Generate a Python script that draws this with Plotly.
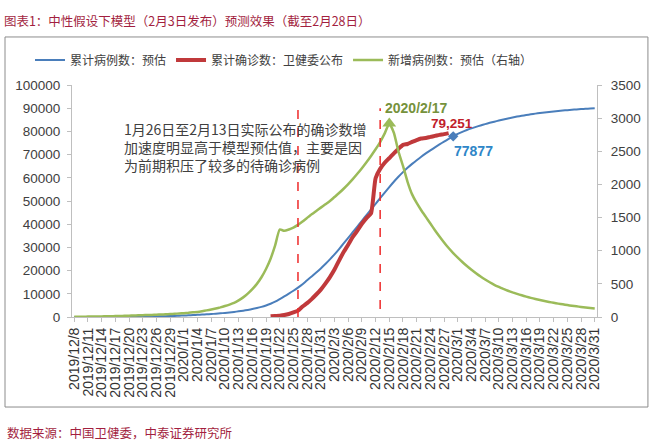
import datetime as dt
import plotly.graph_objects as go

# ---- categories: daily dates 2019/12/8 .. 2020/3/31 ----
start = dt.date(2019, 12, 8)
dates = [(start + dt.timedelta(days=i)) for i in range(115)]
dates = [f"{d.year}/{d.month}/{d.day}" for d in dates]
tick_labels = dates[::3]

# ---- model estimate: cumulative cases (left axis) ----
blue_cum = [5, 7, 10, 13, 17, 22, 28, 35, 43, 52, 63, 76, 91, 108, 128,
            150, 180, 215, 255, 300, 350, 410, 480, 560, 640, 730, 820, 920, 1030, 1150,
            1280, 1420, 1580, 1760, 1960, 2190, 2450, 2740, 3060, 3430, 3860, 4370, 4980, 5700, 6600,
            7700, 8850, 10050, 11300, 12650, 14100, 15850, 17450, 19150, 20950, 22850, 24850, 27000, 29300, 31700,
            34100, 36550, 39000, 41450, 43900, 46350, 48800, 51200, 53600, 56000, 58300, 60450, 62450, 64300, 66000,
            67600, 69100, 70500, 71850, 73150, 74400, 75600, 76750, 77877, 78900, 79800, 80600, 81300, 81950, 82570,
            83150, 83690, 84200, 84680, 85150, 85600, 86000, 86380, 86730, 87060, 87370, 87660, 87930, 88180, 88410,
            88620, 88810, 88990, 89160, 89320, 89470, 89610, 89740, 89860, 89970]

# ---- NHC reported cumulative confirmed (2020/1/20 .. 2020/2/28) ----
red_start = "2020/1/20"
red_cum = [291, 440, 571, 830, 1287, 1975, 2744, 4515, 5974, 7711, 9692, 11791,
           14380, 17205, 20438, 24324, 28018, 31161, 34546, 37198, 40171, 42638, 44653, 59804,
           63851, 66492, 68500, 70548, 72436, 74185, 74576, 75465, 76288, 76936, 77150, 77658,
           78064, 78497, 78824, 79251]

# ---- model estimate: daily new cases (right axis) ----
green_new = [3, 4, 5, 6, 7, 8, 9, 10, 12, 14, 16, 18, 20, 23, 26,
             28, 30, 32, 35, 38, 41, 45, 49, 53, 58, 63, 70, 77, 88, 100,
             113, 128, 145, 165, 187, 212, 250, 296, 352, 420, 500, 600, 725, 880, 1080,
             1320, 1300, 1320, 1350, 1390, 1440, 1495, 1550, 1600, 1650, 1700, 1750, 1810, 1870, 1935,
             2005, 2080, 2160, 2245, 2335, 2430, 2530, 2640, 2770, 2920, 2780, 2500, 2280, 2040, 1850,
             1720, 1610, 1510, 1410, 1310, 1215, 1125, 1040, 965, 895, 830, 770, 713, 660, 610,
             565, 524, 486, 453, 423, 396, 371, 348, 327, 307, 289, 272, 256, 241, 227,
             214, 202, 191, 180, 170, 161, 152, 144, 136, 129]

names = ["累计病例数：预估", "累计确诊数：卫健委公布", "新增病例数：预估（右轴）"]
marks = ["2020/1/26", "2020/2/13"]
title_text = "图表1：中性假设下模型（2月3日发布）预测效果（截至2月28日）"
note_text = ("1月26日至2月13日实际公布的确诊数增<br>加速度明显高于模型预估值，主要是因"
             "<br>为前期积压了较多的待确诊病例")
source_text = "数据来源：中国卫健委，中泰证券研究所"
blue_point_value = 77877

BLUE, RED, GREEN = "#4a7ebb", "#c0393b", "#9bbb59"
CJK = "Noto Sans CJK SC"
NUM = "Liberation Sans"

i0 = dates.index(red_start)
red_x = dates[i0:i0 + len(red_cum)]
peak_i = max(range(len(green_new)), key=lambda i: green_new[i])
blue_i = blue_cum.index(blue_point_value)

fig = go.Figure()
fig.add_trace(go.Scatter(x=dates, y=blue_cum, name=names[0], mode="lines",
                         line=dict(color=BLUE, width=2, shape="spline", smoothing=0.6), legendrank=1))
fig.add_trace(go.Scatter(x=red_x, y=red_cum, name=names[1], mode="lines",
                         line=dict(color=RED, width=4, shape="spline", smoothing=0.5), legendrank=2))
fig.add_trace(go.Scatter(x=dates, y=green_new, name=names[2], mode="lines", yaxis="y2",
                         line=dict(color=GREEN, width=2.5, shape="spline", smoothing=0.5), legendrank=3))
fig.add_trace(go.Scatter(x=[dates[peak_i]], y=[green_new[peak_i]], yaxis="y2", mode="markers",
                         marker=dict(symbol="triangle-up", size=12, color=GREEN),
                         showlegend=False, hoverinfo="skip"))
fig.add_trace(go.Scatter(x=[dates[blue_i]], y=[blue_cum[blue_i]], mode="markers",
                         marker=dict(symbol="diamond", size=8, color=BLUE),
                         showlegend=False, hoverinfo="skip"))

for m, y0 in zip(marks, [0, 3500]):
    fig.add_shape(type="line", xref="x", yref="y", x0=m, x1=m, y0=y0, y1=90000,
                  line=dict(color="#ee2a2a", width=1.5, dash="dash"))

# outer frame
fig.add_shape(type="rect", xref="paper", yref="paper", x0=-0.1276, x1=1.097, y0=-0.388, y1=1.207,
              line=dict(color="#8c8c8c", width=1))

fig.add_annotation(x=0.0952, y=0.733, xref="paper", yref="paper", text=note_text, showarrow=False,
                   xanchor="left", yanchor="middle", align="left",
                   font=dict(family=CJK, size=14, color="#404040"))
fig.add_annotation(x=red_x[-1], y=red_cum[-1], xref="x", yref="y", text=f"{red_cum[-1]:,}",
                   showarrow=False, xshift=3, yshift=10,
                   font=dict(family=NUM, size=13.5, color="#c0202a", weight="bold"))
fig.add_annotation(x=dates[blue_i], y=blue_cum[blue_i], xref="x", yref="y", text=str(blue_point_value),
                   showarrow=False, xshift=20, yshift=-15,
                   font=dict(family=NUM, size=14, color="#2e86c8", weight="bold"))
fig.add_annotation(x=dates[peak_i], y=green_new[peak_i], xref="x", yref="y2", text="2020/2/17",
                   showarrow=False, xanchor="left", xshift=-6, yshift=15,
                   font=dict(family=NUM, size=14, color="#76923c", weight="bold"))
fig.add_annotation(x=-0.1276, y=-0.4957, xref="paper", yref="paper", text=source_text, showarrow=False,
                   xanchor="left", yanchor="middle",
                   font=dict(family=CJK, size=12.5, color="#a31f3f"))

axis_common = dict(showgrid=False, zeroline=False, showline=True, linecolor="#bfbfbf", linewidth=1,
                   ticks="outside", ticklen=4, tickcolor="#bfbfbf",
                   tickfont=dict(family=NUM, size=13.5, color="#404040"))

fig.update_layout(
    width=655, height=448,
    margin=dict(l=72, r=58, t=85, b=131),
    paper_bgcolor="white", plot_bgcolor="white",
    title=dict(text=title_text, x=0.006, xanchor="left", y=1 - 22 / 448, yanchor="middle",
               xref="container", yref="container",
               font=dict(family=CJK, size=12.5, color="#a31f3f")),
    xaxis=dict(type="category", categoryorder="array", categoryarray=dates,
               range=[-0.5, len(dates) - 0.5], tickmode="array", tickvals=tick_labels,
               tickangle=-90, **{**axis_common, "tickfont": dict(family=NUM, size=14, color="#333333")}),
    yaxis=dict(range=[0, 100000], dtick=10000, tickformat="d", ticklabelstandoff=4, **axis_common),
    yaxis2=dict(range=[0, 3500], dtick=500, tickformat="d", overlaying="y", side="right",
                ticklabelstandoff=6, **axis_common),
    legend=dict(orientation="h", x=-0.08, xanchor="left", y=1.108, yanchor="middle",
                font=dict(family=CJK, size=12, color="#404040"), bgcolor="rgba(0,0,0,0)",
                itemwidth=30, traceorder="normal"),
    showlegend=True,
)

fig.write_html("out.html")
